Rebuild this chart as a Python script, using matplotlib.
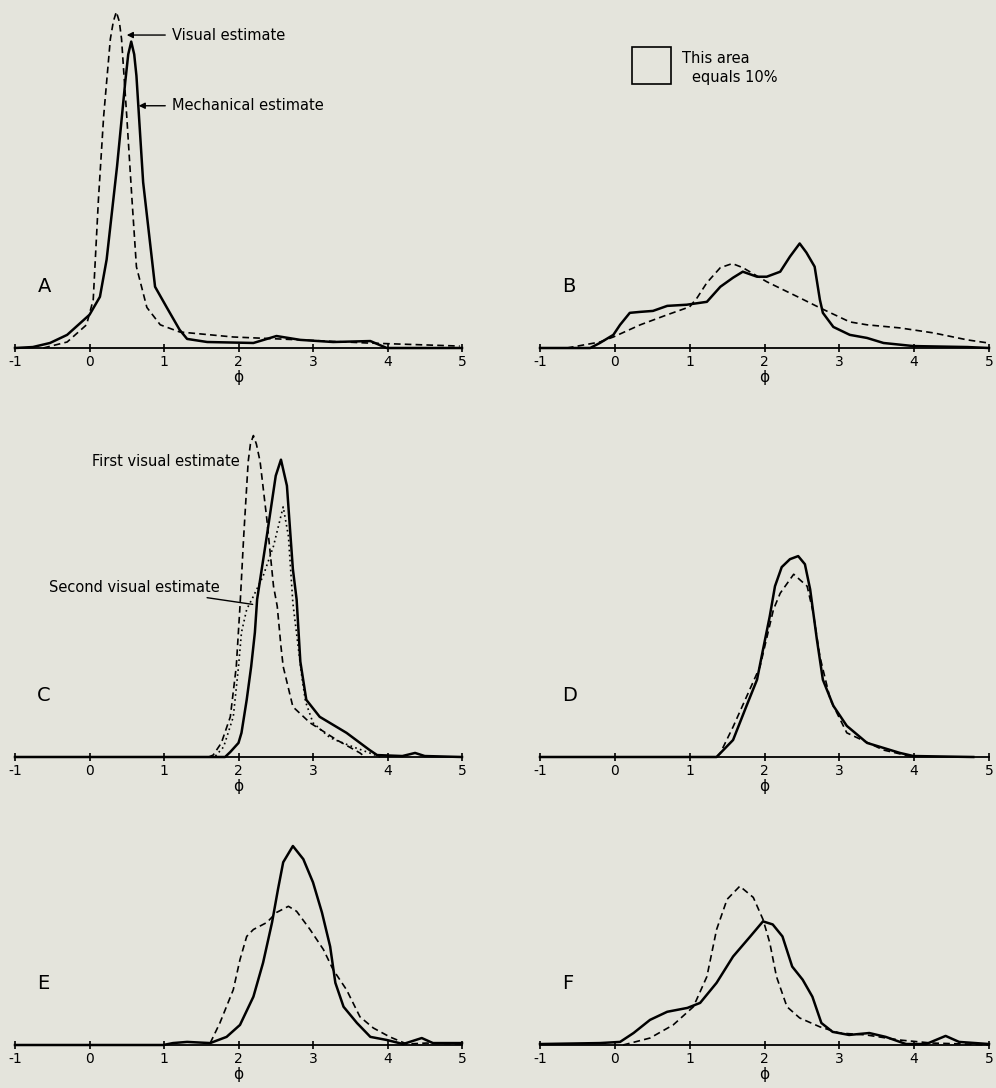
import matplotlib
matplotlib.use("Agg")
import matplotlib.pyplot as plt
from matplotlib.patches import Rectangle

# frecuencia en % por unidad de phi

# A
a_mec_x = [-1, -0.76, -0.53, -0.30, 0, 0.14, 0.23, 0.37, 0.48, 0.52, 0.56, 0.60, 0.63, 0.72, 0.88, 1.04,
           1.21, 1.31, 1.58, 2.2, 2.51, 2.83, 3.27, 3.77, 3.99, 5]
a_mec_y = [0, 0.5, 2.6, 6.8, 17.2, 26.5, 45.8, 94.1, 137.8, 152, 158.6, 152, 140.9, 85.8, 31.7, 20.8,
           9.4, 4.7, 3.1, 2.6, 6.2, 4.2, 3.1, 3.6, 0, 0]
a_vis_x = [-0.62, -0.3, -0.04, 0.05, 0.12, 0.19, 0.28, 0.32, 0.36, 0.40, 0.43, 0.50, 0.57, 0.63, 0.77,
           0.95, 1.21, 1.93, 2.83, 3.72, 4.97]
a_vis_y = [0, 3.1, 12, 25, 77, 120, 160, 169, 174, 169, 160, 120, 77, 42, 21,
           12, 8.3, 5.7, 4.2, 2.6, 1.0]

# B
b_mec_x = [-1, -0.33, -0.2, -0.02, 0.07, 0.2, 0.34, 0.51, 0.70, 0.96, 1.23, 1.41, 1.58, 1.71, 1.90,
           2.03, 2.21, 2.34, 2.47, 2.56, 2.67, 2.74, 2.78, 2.92, 3.14, 3.37, 3.59, 3.99, 4.71, 5]
b_mec_y = [0, 0, 2.6, 6.8, 12, 18.2, 18.7, 19.2, 21.8, 22.4, 23.9, 31.7, 36.4, 39.5, 36.9,
           36.9, 39.5, 47.3, 54.1, 49.4, 42.1, 25, 18.2, 10.9, 6.8, 5.2, 2.6, 1, 0.5, 0]
b_vis_x = [-0.64, -0.2, -0.02, 0.34, 0.70, 1.0, 1.10, 1.23, 1.41, 1.57, 1.71, 2.03, 2.47, 2.74, 3.14,
           3.37, 3.81, 4.26, 4.71, 4.99]
b_vis_y = [0, 3.1, 5.7, 12, 17.2, 21.3, 26, 33.8, 41.6, 43.7, 41.6, 34.3, 26, 20.8, 13.5,
           12, 10.4, 7.8, 4.2, 2.6]

# C
c_mec_x = [-1, 1.82, 1.89, 2.0, 2.04, 2.11, 2.17, 2.22, 2.25, 2.38, 2.50, 2.57, 2.65, 2.73, 2.78,
           2.83, 2.91, 3.09, 3.45, 3.76, 3.86, 4.2, 4.37, 4.5, 5]
c_mec_y = [0, 0, 2.6, 7.3, 12.5, 29.6, 46.8, 64.5, 81.6, 114.4, 145.6, 153.9, 140.4, 97.2, 81.6,
           49.4, 29.6, 20.8, 12.5, 3.6, 1.0, 0.5, 2.1, 0.5, 0]
c_vis1_x = [1.6, 1.66, 1.77, 1.89, 1.97, 2.02, 2.07, 2.13, 2.16, 2.20, 2.24, 2.29, 2.38, 2.47, 2.52,
            2.57, 2.60, 2.73, 2.96, 3.32, 3.63, 3.7]
c_vis1_y = [0, 1, 7.3, 20.8, 46.8, 78, 114.4, 152.9, 162, 166.4, 162, 152.9, 123.2, 88.4, 78,
            57.2, 46.8, 26, 17.7, 8.8, 2.1, 0]
c_vis2_x = [1.69, 1.80, 1.93, 2.0, 2.04, 2.11, 2.20, 2.33, 2.47, 2.60, 2.67, 2.73, 2.85, 2.90, 3.0,
            3.23, 3.54, 3.76, 3.9]
c_vis2_y = [0.5, 5.2, 20.8, 46.8, 64.5, 76.4, 83.2, 93.6, 109.2, 129.5, 114.4, 79.6, 41.6, 28.6, 17.7,
            9.9, 5.2, 2.1, 0]

# D
d_mec_x = [-1, 1.36, 1.58, 1.76, 1.90, 1.98, 2.07, 2.14, 2.23, 2.34, 2.45, 2.54, 2.61, 2.70, 2.78,
           2.92, 3.10, 3.37, 3.81, 3.99, 4.79]
d_mec_y = [0, 0, 8.8, 26.5, 40, 55.6, 72.8, 88.4, 98.3, 102.4, 104, 99.8, 86.8, 60.8, 40,
           26.5, 16.1, 7.3, 2.1, 0.5, 0]
d_vis_x = [1.36, 1.41, 1.58, 1.76, 1.94, 2.12, 2.21, 2.39, 2.57, 2.65, 2.74, 2.88, 3.10, 3.59, 3.99]
d_vis_y = [0, 2.1, 15.6, 31.2, 46.8, 76.4, 84.8, 94.6, 88.4, 74.9, 52, 29.6, 12.5, 3.6, 0]

# E
e_mec_x = [-1, 0.99, 1.12, 1.31, 1.62, 1.84, 2.02, 2.20, 2.33, 2.45, 2.53, 2.60, 2.73, 2.87, 3.0,
           3.12, 3.23, 3.30, 3.41, 3.59, 3.77, 3.99, 4.21, 4.46, 4.61, 5]
e_mec_y = [0, 0, 1, 1.6, 1, 4.2, 10.4, 25, 42.6, 63.4, 80.6, 94.6, 103, 96.2, 84.2,
           68.6, 51, 32.2, 19.8, 11.4, 4.2, 2.6, 0.5, 3.6, 1, 1]
e_vis_x = [1.62, 1.75, 1.93, 2.02, 2.11, 2.20, 2.38, 2.51, 2.67, 2.78, 2.96, 3.14, 3.27, 3.45, 3.63,
           3.81, 4.03, 4.26, 4.52, 5]
e_vis_y = [1, 11.4, 28.6, 44.2, 56.2, 59.8, 63.4, 68.6, 71.8, 69.2, 59.8, 49.4, 39, 28.6, 14.6,
           8.8, 4.2, 0.5, 1, 0.5]

# F
f_mec_x = [-1, -0.2, 0.07, 0.25, 0.47, 0.70, 0.97, 1.14, 1.36, 1.58, 1.81, 1.98, 2.11, 2.24, 2.37,
           2.51, 2.64, 2.76, 2.91, 3.13, 3.4, 3.62, 3.89, 4.16, 4.42, 4.6, 5]
f_mec_y = [0.5, 1, 1.6, 6.2, 13, 17.2, 19.2, 21.8, 32.2, 45.8, 56.2, 64, 62.4, 56.2, 40.6,
           33.8, 25, 11.4, 6.8, 5.2, 6.2, 4.2, 0.5, 0.5, 4.7, 1.6, 0.5]
f_vis_x = [0.11, 0.47, 0.78, 1.05, 1.23, 1.36, 1.50, 1.67, 1.85, 1.98, 2.07, 2.16, 2.30, 2.47, 2.74,
           3.0, 3.36, 3.80, 4.24, 4.69, 5]
f_vis_y = [0, 3.6, 10.4, 19.8, 35.4, 59.8, 75.4, 82.2, 76.4, 65, 53, 35.4, 19.8, 14, 9.4,
           6.2, 5.2, 2.6, 1, 0.5, 0]

ticks = [-1, 0, 1, 2, 3, 4, 5]
tick_labels = ["-1", "0", "1", "2", "3", "4", "5"]

BG = "#e4e4dc"
W, H = 996, 1088

fig = plt.figure(figsize=(W / 100, H / 100), dpi=100, facecolor=BG)


def panel(left, width, base, letter):
    # eix en pixels de la figura -> fraccions
    ax = fig.add_axes([left / W, 1 - base / H, width / W, 340 / H])
    ax.set_facecolor("none")
    ax.set_xlim(-1, 5)
    ax.set_ylim(0, 176)
    for s in ["left", "top", "right"]:
        ax.spines[s].set_visible(False)
    ax.spines["bottom"].set_linewidth(1.3)
    ax.set_yticks([])
    ax.set_xticks(ticks)
    ax.set_xticklabels(tick_labels)
    ax.tick_params(axis="x", direction="inout", length=6, width=1.2, pad=2, labelsize=10)
    ax.set_xlabel("ϕ", fontsize=11, labelpad=1)
    ax.text(-0.7, 32, letter, fontsize=14, ha="left", va="center")
    return ax


def mec(ax, x, y):
    ax.plot(x, y, color="black", lw=1.8, clip_on=False)


def vis(ax, x, y):
    ax.plot(x, y, color="black", lw=1.2, ls=(0, (4, 2.5)), clip_on=False)


axA = panel(15, 447, 348, "A")
mec(axA, a_mec_x, a_mec_y)
vis(axA, a_vis_x, a_vis_y)
axA.annotate("Visual estimate", xy=(0.50, 162), xytext=(1.11, 162), fontsize=10.5,
             ha="left", va="center",
             arrowprops=dict(arrowstyle="-|>", lw=1, color="black", shrinkA=3, shrinkB=0,
                             mutation_scale=9))
axA.annotate("Mechanical estimate", xy=(0.66, 125.4), xytext=(1.11, 125.4), fontsize=10.5,
             ha="left", va="center",
             arrowprops=dict(arrowstyle="-|>", lw=1, color="black", shrinkA=3, shrinkB=0,
                             mutation_scale=9))

axB = panel(540, 449, 348, "B")
mec(axB, b_mec_x, b_mec_y)
vis(axB, b_vis_x, b_vis_y)
# quadrat de referencia: 0.52 phi x 19.2 %/phi = 10 %
axB.add_patch(Rectangle((0.23, 136.8), 0.52, 19.2, fill=False, lw=1.2, ec="black", clip_on=False))
axB.text(0.90, 150, "This area", fontsize=10.5, ha="left", va="center")
axB.text(1.03, 140, "equals 10%", fontsize=10.5, ha="left", va="center")

axC = panel(15, 447, 757, "C")
mec(axC, c_mec_x, c_mec_y)
vis(axC, c_vis1_x, c_vis1_y)
axC.plot(c_vis2_x, c_vis2_y, color="black", lw=1.2, ls=(0, (1, 2)), clip_on=False)
axC.text(2.02, 153, "First visual estimate", fontsize=10.5, ha="right", va="center")
axC.annotate("Second visual estimate", xy=(2.19, 79), xytext=(1.75, 88), fontsize=10.5,
             ha="right", va="center",
             arrowprops=dict(arrowstyle="-", lw=1, color="black", shrinkA=2, shrinkB=0))

axD = panel(540, 449, 757, "D")
mec(axD, d_mec_x, d_mec_y)
vis(axD, d_vis_x, d_vis_y)

axE = panel(15, 447, 1045, "E")
mec(axE, e_mec_x, e_mec_y)
vis(axE, e_vis_x, e_vis_y)

axF = panel(540, 449, 1045, "F")
mec(axF, f_mec_x, f_mec_y)
vis(axF, f_vis_x, f_vis_y)

fig.savefig("out.png", dpi=100, facecolor=BG)
